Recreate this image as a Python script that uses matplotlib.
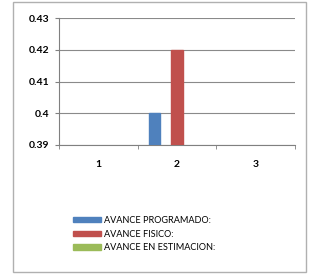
import matplotlib
matplotlib.use("Agg")
import matplotlib.pyplot as plt
import numpy as np
from matplotlib.patches import Rectangle

categories = ["1", "2", "3"]
series_names = ["AVANCE PROGRAMADO:", "AVANCE FISICO:", "AVANCE EN ESTIMACION:"]
programado = [0, 0.40, 0]
fisico = [0, 0.42, 0]
estimacion = [0, 0, 0]
yticks = [0.39, 0.40, 0.41, 0.42, 0.43]
ytick_labels = ["0.39", "0.4", "0.41", "0.42", "0.43"]
colors = ["#4F81BD", "#C0504D", "#9BBB59"]

plt.rcParams["font.family"] = ["Lato", "DejaVu Sans"]

fig = plt.figure(figsize=(3.1, 2.74), dpi=100)
# outer chart border
fig.patches.append(Rectangle((13 / 310, 2 / 274), 293 / 310, 270 / 274,
                             transform=fig.transFigure, fill=False,
                             edgecolor="#b0b0b0", linewidth=1.0))

ax = fig.add_axes([59 / 310, 1 - 145 / 274, 236 / 310, 127 / 274])
x = np.arange(len(categories))
width = 0.15
offsets = [-0.285, 0.0, 0.285]
for vals, off, c, name in zip([programado, fisico, estimacion], offsets, colors, series_names):
    ax.bar(x + off, vals, width, color=c, edgecolor=c, label=name, zorder=3)

ax.set_xlim(-0.5, 2.5)
ax.set_ylim(0.39, 0.43)
ax.set_yticks(yticks)
ax.set_yticklabels(ytick_labels)
ax.set_xticks(x)
ax.set_xticklabels(categories)
ax.set_xticks([-0.5, 0.5, 1.5, 2.5], minor=True)
ax.tick_params(axis="x", which="major", length=0, pad=11, labelsize=7.5)
ax.tick_params(axis="x", which="minor", length=3, color="#808080")
ax.tick_params(axis="y", length=3, color="#808080", labelsize=7.5, pad=4)
for lab in ax.get_xticklabels() + ax.get_yticklabels():
    lab.set_fontweight("bold")
ax.grid(axis="y", color="#8a8a8a", linewidth=0.8, zorder=0)
for s in ["top", "right"]:
    ax.spines[s].set_visible(False)
for s in ["left", "bottom"]:
    ax.spines[s].set_color("#808080")

ax.legend(loc="upper left", bbox_to_anchor=(73 / 310, 1 - 216 / 274),
          bbox_transform=fig.transFigure, frameon=False, fontsize=6.6,
          handlelength=3.1, handleheight=0.5, handletextpad=0.25,
          labelspacing=0.5, borderpad=0, borderaxespad=0)

fig.savefig("out.png", dpi=100)
